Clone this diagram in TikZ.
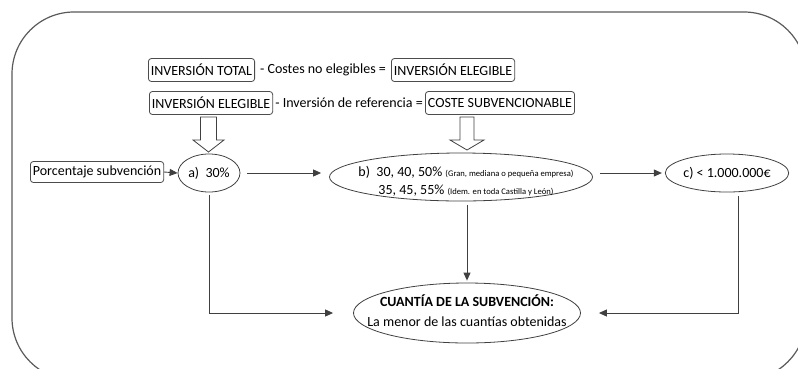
\documentclass[tikz,border=0pt]{standalone}
\usepackage{fontspec}
\setmainfont{Carlito}
\usetikzlibrary{shapes.geometric,arrows.meta,calc}
\begin{document}
\begin{tikzpicture}[x=1pt,y=-1pt, font=\fontsize{14}{18}\selectfont,
 line/.style={draw=black!75, line width=0.9pt},
 arr/.style={line, -{Triangle[length=8pt,width=7pt]}},
 tbox/.style={draw=black!70, rounded corners=3pt, inner sep=2.5pt, minimum height=23pt, line width=0.8pt},
 ell/.style={ellipse, draw=black!75, line width=0.8pt, inner sep=0pt}]
\newcommand\smalltxt{\fontsize{8.6}{9}\selectfont}
\useasboundingbox (0,0) rectangle (798,368);
\begin{scope}
\clip (0,0) rectangle (798,368);
\draw[draw=black!65, line width=1.2pt, rounded corners=62pt] (12,12) rectangle (806,380);
\end{scope}
% row 1
\node[tbox, anchor=west] (it) at (148,70) {INVERSIÓN TOTAL};
\node[tbox, anchor=west] (ie1) at (391,70) {INVERSIÓN ELEGIBLE};
\node[inner sep=0pt] (t1) at ($(it.east)!0.5!(ie1.west)$) {- Costes no elegibles =};
% row 2
\node[tbox, anchor=west] (ie2) at (149,103) {INVERSIÓN ELEGIBLE};
\node[tbox, anchor=west] (cs) at (425,103) {COSTE SUBVENCIONABLE};
\node[inner sep=0pt] (t2) at ($(ie2.east)!0.5!(cs.west)$) {- Inversión de referencia =};
% block arrows
\draw[line, line width=0.8pt] (200.5,117) -- (200.5,140) -- (193,140) -- (208.5,152) -- (224,140) -- (216.5,140) -- (216.5,117) -- cycle;
\draw[line, line width=0.8pt] (460,117) -- (460,140) -- (450,140) -- (467,150) -- (484,140) -- (474,140) -- (474,117) -- cycle;
% middle row
\node[tbox, anchor=west, minimum height=21pt] (ps) at (30,172) {Porcentaje subvención};
\node[ell, minimum width=62pt, minimum height=38pt] (a) at (209,173) {a)\ \ 30\%};
\node[ell, minimum width=263pt, minimum height=48pt] (b) at (461,177) {};
\node[align=center, inner sep=0pt] (bt) at (466,181) {b)\ \ 30, 40, 50\% {\smalltxt (Gran, mediana o pequeña empresa)}\\35, 45, 55\% {\smalltxt (Idem. en toda Castilla y León)}};
\node[ell, minimum width=86pt, minimum height=38pt] (c) at (727,173) {c) < 1.000.000€};
% bottom
\node[ell, minimum width=227pt, minimum height=60pt] (d) at (467,313) {};
\node[align=center, inner sep=0pt, font=\fontsize{14}{20}\selectfont] (dt) at (467,311) {\textbf{CUANTÍA DE LA SUBVENCIÓN:}\\La menor de las cuantías obtenidas};
% connectors
\draw[arr] (ps.east) -- (a.west);
\draw[arr] ([xshift=7pt]a.east) -- ([xshift=-8pt]b.west |- a.east);
\draw[arr] ([xshift=7pt]b.east |- c.west) -- ([xshift=-3pt]c.west);
\draw[arr] ([yshift=-3pt]a.south) -- (a.south |- d.west) -- ([xshift=-20pt]d.west);
\draw[arr] ([yshift=-4pt]d.north |- b.south) -- ([yshift=2pt]d.north);
\draw[arr] ([xshift=11pt,yshift=-4pt]c.south) -- ([xshift=11pt]c.south |- d.east) -- ([xshift=18pt]d.east);
\end{tikzpicture}
\end{document}
